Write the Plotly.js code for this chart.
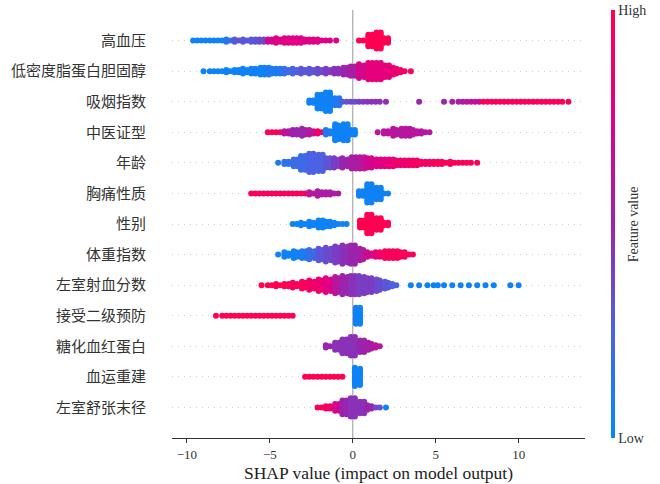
<!DOCTYPE html>
<html>
<head>
<meta charset="utf-8">
<script src="https://cdn.plot.ly/plotly-3.0.1.min.js"></script>
<style>html,body{margin:0;padding:0;background:#fff;}#chart{width:660px;height:484px;}</style>
</head>
<body>
<div id="chart"></div>
<script>
// Feature names, top to bottom
const featureNames = ['高血压','低密度脂蛋白胆固醇','吸烟指数','中医证型','年龄','胸痛性质','性别','体重指数','左室射血分数','接受二级预防','糖化血红蛋白','血运重建','左室舒张末径'];

// Each feature: histogram of SHAP values.
// *_start = centre of first bin (bins are 0.5 wide), *_count = dots per bin,
// *_color = feature value (0 = low / blue, 1 = high / red) per bin.
const hbp_start = -9.5;
const hbp_count = [2,2,2,2,3,3,3,4,4,4,5,6,6,5,4,3,2,1,0,0,2,12,16,6];
const hbp_color = [0.05,0.05,0.05,0.05,0.15,0.3,0.3,0.3,0.35,0.7,0.75,0.75,0.75,0.75,0.75,0.75,0.75,0.75,0,0,1,1,1,1];

const ldl_start = -9.0;
const ldl_count = [1,2,2,3,4,5,6,8,7,6,5,5,5,5,5,5,6,8,10,13,16,16,12,7,3,1];
const ldl_color = [0.05,0.05,0.05,0.05,0.05,0.05,0.05,0.05,0.1,0.1,0.2,0.25,0.3,0.3,0.35,0.4,0.45,0.5,0.55,0.7,0.8,0.8,0.8,0.85,0.9,1];

const smk_start = -2.5;
const smk_count = [4,14,18,8,2,2,2,2,2,1,0,0,0,1,0,0,1,1,2,2,2,2,2,2,2,2,2,2,2,2,2,1];
const smk_color = [0.05,0.05,0.05,0.1,0.3,0.35,0.4,0.45,0.45,0.45,0,0,0,0.5,0,0,0.5,0.55,0.55,0.6,0.65,0.95,0.95,0.95,0.95,0.95,0.95,0.95,0.95,0.95,0.95,0.95];

const tcm_start = -5.0;
const tcm_count = [2,2,4,6,7,5,3,5,15,16,6,0,0,1,4,7,8,7,4,2];
const tcm_color = [0.95,0.95,0.6,0.5,0.5,0.6,0.9,0.1,0.05,0.05,0.05,0,0,0.6,0.6,0.6,0.6,0.6,0.6,0.6];

const age_start = -4.5;
const age_count = [1,4,8,14,18,16,10,9,9,12,12,10,8,8,7,6,6,5,4,4,3,3,2,2,1];
const age_color = [0.1,0.15,0.2,0.2,0.25,0.25,0.3,0.4,0.5,0.55,0.6,0.7,0.75,0.8,0.85,0.85,0.9,0.9,0.9,0.95,0.95,0.95,0.95,0.95,0.95];

const cp_start = -6.0;
const cp_count = [2,2,2,2,2,2,2,3,5,4,2,0,0,6,18,12,2];
const cp_color = [0.95,0.95,0.95,0.95,0.95,0.95,0.95,0.6,0.55,0.55,0.55,0,0,0.05,0.05,0.05,0.05];

const sex_start = -3.5;
const sex_count = [2,3,5,8,6,3,2,0,8,18,12,4];
const sex_color = [0.05,0.05,0.05,0.05,0.05,0.05,0.05,0,1,1,1,1];

const bmi_start = -4.5;
const bmi_count = [1,5,7,8,9,11,13,15,17,18,11,5,6,8,8,6,2];
const bmi_color = [0.05,0.05,0.05,0.1,0.2,0.3,0.35,0.4,0.45,0.5,0.55,0.7,0.85,0.95,0.95,0.95,0.95];

const lvef_start = -5.5;
const lvef_count = [1,2,3,4,5,7,9,11,13,15,17,18,17,14,11,7,3,0,1,1,1,2,1,1,1,1,1,1,1,0,1,1];
const lvef_color = [1,1,1,1,0.95,0.95,0.9,0.85,0.75,0.6,0.5,0.45,0.4,0.4,0.35,0.3,0.25,0,0.05,0.05,0.05,0.05,0.05,0.05,0.05,0.05,0.05,0.05,0.05,0,0.05,0.05];

const sec_start = -8.25;
const sec_count = [1,2,2,2,2,2,2,2,2,2,0,0,0,0,0,0,0,16];
const sec_color = [1,1,1,1,1,1,1,1,1,1,0,0,0,0,0,0,0,0.05];

const hba_start = -1.5;
const hba_count = [3,8,14,18,12,7,3];
const hba_color = [0.5,0.45,0.45,0.45,0.5,0.55,0.6];

const rev_start = -2.75;
const rev_count = [2,2,2,2,2,0,17];
const rev_color = [1,1,1,1,1,0,0.05];

const lvd_start = -2.0;
const lvd_count = [2,4,8,14,18,12,5,2,1];
const lvd_color = [0.95,0.9,0.7,0.5,0.45,0.45,0.5,0.35,0.05];

const xTicks = [-10,-5,0,5,10];
const colorTickText = ['Low','High'];

const rows = [
  {start:hbp_start, count:hbp_count, color:hbp_color},
  {start:ldl_start, count:ldl_count, color:ldl_color},
  {start:smk_start, count:smk_count, color:smk_color},
  {start:tcm_start, count:tcm_count, color:tcm_color},
  {start:age_start, count:age_count, color:age_color},
  {start:cp_start, count:cp_count, color:cp_color},
  {start:sex_start, count:sex_count, color:sex_color},
  {start:bmi_start, count:bmi_count, color:bmi_color},
  {start:lvef_start, count:lvef_count, color:lvef_color},
  {start:sec_start, count:sec_count, color:sec_color},
  {start:hba_start, count:hba_count, color:hba_color},
  {start:rev_start, count:rev_count, color:rev_color},
  {start:lvd_start, count:lvd_count, color:lvd_color}
];

// Beeswarm layout: each bin's dots go in two sub-columns, each stacked symmetrically
// about the row line, with alternate levels nudged sideways (hex-like packing)
const BIN = 0.5, SUB = 0.125, HEX = 0.06, LEVEL = 0.075;
const xs = [], ys = [], cs = [];
rows.forEach((r, i) => {
  const yc = rows.length - 1 - i;
  r.count.forEach((n, b) => {
    if (!n) return;
    const xc = r.start + b * BIN;
    const mA = Math.ceil(n / 2), mB = Math.floor(n / 2);
    const stacks = [{m: mA, dx: mB ? -SUB : 0}, {m: mB, dx: SUB}];
    stacks.forEach(s => {
      for (let k = 0; k < s.m; k++) {
        const off = k - (s.m - 1) / 2;
        const nudge = (Math.round(Math.abs(off) * 2) % 2) ? HEX : 0;
        xs.push(xc + s.dx + (s.m > 2 ? nudge : 0));
        ys.push(yc + off * LEVEL);
        cs.push(r.color[b]);
      }
    });
  });
});

const scale = [
  [0, 'rgb(0,138,250)'],
  [0.25, 'rgb(75,99,227)'],
  [0.5, 'rgb(155,36,173)'],
  [0.75, 'rgb(224,0,134)'],
  [1, 'rgb(255,0,82)']
];

const serif = 'Liberation Serif, DejaVu Serif, serif';

const trace = {
  type: 'scatter', mode: 'markers', x: xs, y: ys, hoverinfo: 'skip', showlegend: false,
  marker: {
    size: 6, color: cs, cmin: 0, cmax: 1, colorscale: scale, line: {width: 0},
    showscale: true,
    colorbar: {
      thickness: 4, thicknessmode: 'pixels', len: 428, lenmode: 'pixels',
      x: 1.063, xanchor: 'left', y: 0.5, yanchor: 'middle',
      outlinewidth: 0, xpad: 0, ypad: 0,
      tickvals: [0, 1], ticktext: colorTickText, ticks: '',
      tickfont: {family: serif, size: 14, color: '#333'}
    }
  }
};

const yTickVals = featureNames.map((_, i) => featureNames.length - 1 - i);

const layout = {
  width: 660, height: 484,
  margin: {l: 172, r: 75, t: 10, b: 46},
  paper_bgcolor: '#fff', plot_bgcolor: '#fff',
  xaxis: {
    range: [-10.9, 14.0], tickvals: xTicks, zeroline: false, showgrid: false,
    showline: true, linecolor: '#333', linewidth: 1,
    ticks: 'outside', ticklen: 4, tickcolor: '#333',
    tickfont: {family: serif, size: 13, color: '#333'},
    title: {text: 'SHAP value (impact on model output)', font: {family: serif, size: 17.5, color: '#222'}, standoff: 6}
  },
  yaxis: {
    range: [-1, 13], tickvals: yTickVals, ticktext: featureNames,
    showgrid: true, gridcolor: '#cccccc', gridwidth: 1, griddash: '1px,5px',
    zeroline: false, showline: false, ticks: '', ticklabelstandoff: 25,
    tickfont: {family: 'Noto Sans CJK SC, sans-serif', size: 15, color: '#333'}
  },
  shapes: [{type: 'line', xref: 'x', yref: 'paper', x0: 0, x1: 0, y0: 0, y1: 1, layer: 'below', line: {color: '#999', width: 1}}],
  annotations: [{
    text: 'Feature value', xref: 'paper', yref: 'paper', x: 1.14, y: 0.5, textangle: -90,
    showarrow: false, font: {family: serif, size: 14, color: '#333'}
  }]
};

Plotly.newPlot('chart', [trace], layout, {displayModeBar: false, staticPlot: true});
</script>
</body>
</html>
